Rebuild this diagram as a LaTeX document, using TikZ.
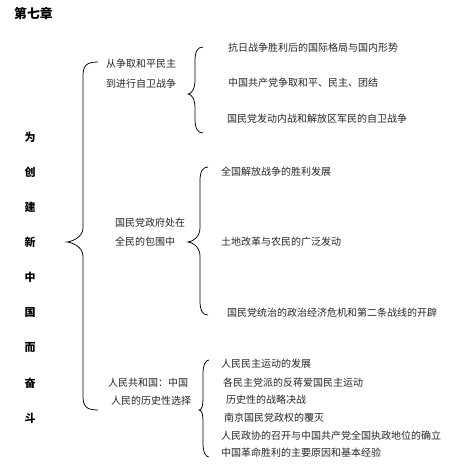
\documentclass[tikz,border=0pt]{standalone}
\usepackage{fontspec}
\newfontfamily\cjk{Noto Sans CJK SC}
\newcommand\mybrace[6]{% top-end x, top y, line x, tip x, tip y, bottom y
  \draw[bracel] (#1,#2) .. controls ({#3+3},#2) and (#3,{#2+4}) .. (#3,{#2+14})
    -- (#3,{#5-14}) .. controls (#3,{#5-4}) and ({#4+3},#5) .. (#4,#5)
    .. controls ({#4+3},#5) and (#3,{#5+4}) .. (#3,{#5+14})
    -- (#3,{#6-14}) .. controls (#3,{#6-4}) and ({#3+3},#6) .. (#1,#6);}
\begin{document}
\begin{tikzpicture}[x=1pt,y=-1pt,
  bracel/.style={line width=0.75pt,black},
  txt/.style={inner sep=0pt,anchor=west,font=\cjk\fontsize{10}{11}\selectfont,text=black!85},
  vchar/.style={inner sep=0pt,font=\cjk\bfseries\fontsize{11}{12}\selectfont},
  title/.style={inner sep=0pt,anchor=west,font=\cjk\bfseries\fontsize{12.8}{14}\selectfont}]
\useasboundingbox (0,0) rectangle (465,464);
\node[title] (t) at (14,14) {第七章};
% vertical title
\node[vchar] (v1) at (30,137) {为};
\node[vchar] (v2) at (30,172) {创};
\node[vchar] (v3) at (30,207) {建};
\node[vchar] (v4) at (30,242) {新};
\node[vchar] (v5) at (30,277) {中};
\node[vchar] (v6) at (30,312) {国};
\node[vchar] (v7) at (30,347) {而};
\node[vchar] (v8) at (30,383) {奋};
\node[vchar] (v9) at (30,418) {斗};
% big brace
\mybrace{98}{62}{83}{67}{242}{410}
% group 1
\node[txt] (a1) at (106,64) {从争取和平民主};
\node[txt] (a2) at (106,84) {到进行自卫战争};
\mybrace{203}{47}{195}{188}{94}{133}
\node[txt] (a3) at (228,48) {抗日战争胜利后的国际格局与国内形势};
\node[txt] (a4) at (228,83) {中国共产党争取和平、民主、团结};
\node[txt] (a5) at (227,119) {国民党发动内战和解放区军民的自卫战争};
% group 2
\node[txt] (b1) at (115,223) {国民党政府处在};
\node[txt] (b2) at (115,242) {全民的包围中};
\mybrace{208}{167}{200}{188}{242}{315}
\node[txt] (b3) at (221,172) {全国解放战争的胜利发展};
\node[txt] (b4) at (221,242) {土地改革与农民的广泛发动};
\node[txt] (b5) at (227,313) {国民党统治的政治经济危机和第二条战线的开辟};
% group 3
\node[txt] (c1) at (108,383) {人民共和国：中国};
\node[txt] (c2) at (111,401) {人民的历史性选择};
\mybrace{209}{360}{203}{199}{410}{457}
\node[txt] (c3) at (221,364) {人民民主运动的发展};
\node[txt] (c4) at (223,383) {各民主党派的反蒋爱国民主运动};
\node[txt] (c5) at (226,400) {历史性的战略决战};
\node[txt] (c6) at (224,418) {南京国民党政权的覆灭};
\node[txt] (c7) at (221,436) {人民政协的召开与中国共产党全国执政地位的确立};
\node[txt] (c8) at (221,453) {中国革命胜利的主要原因和基本经验};
\end{tikzpicture}
\end{document}
